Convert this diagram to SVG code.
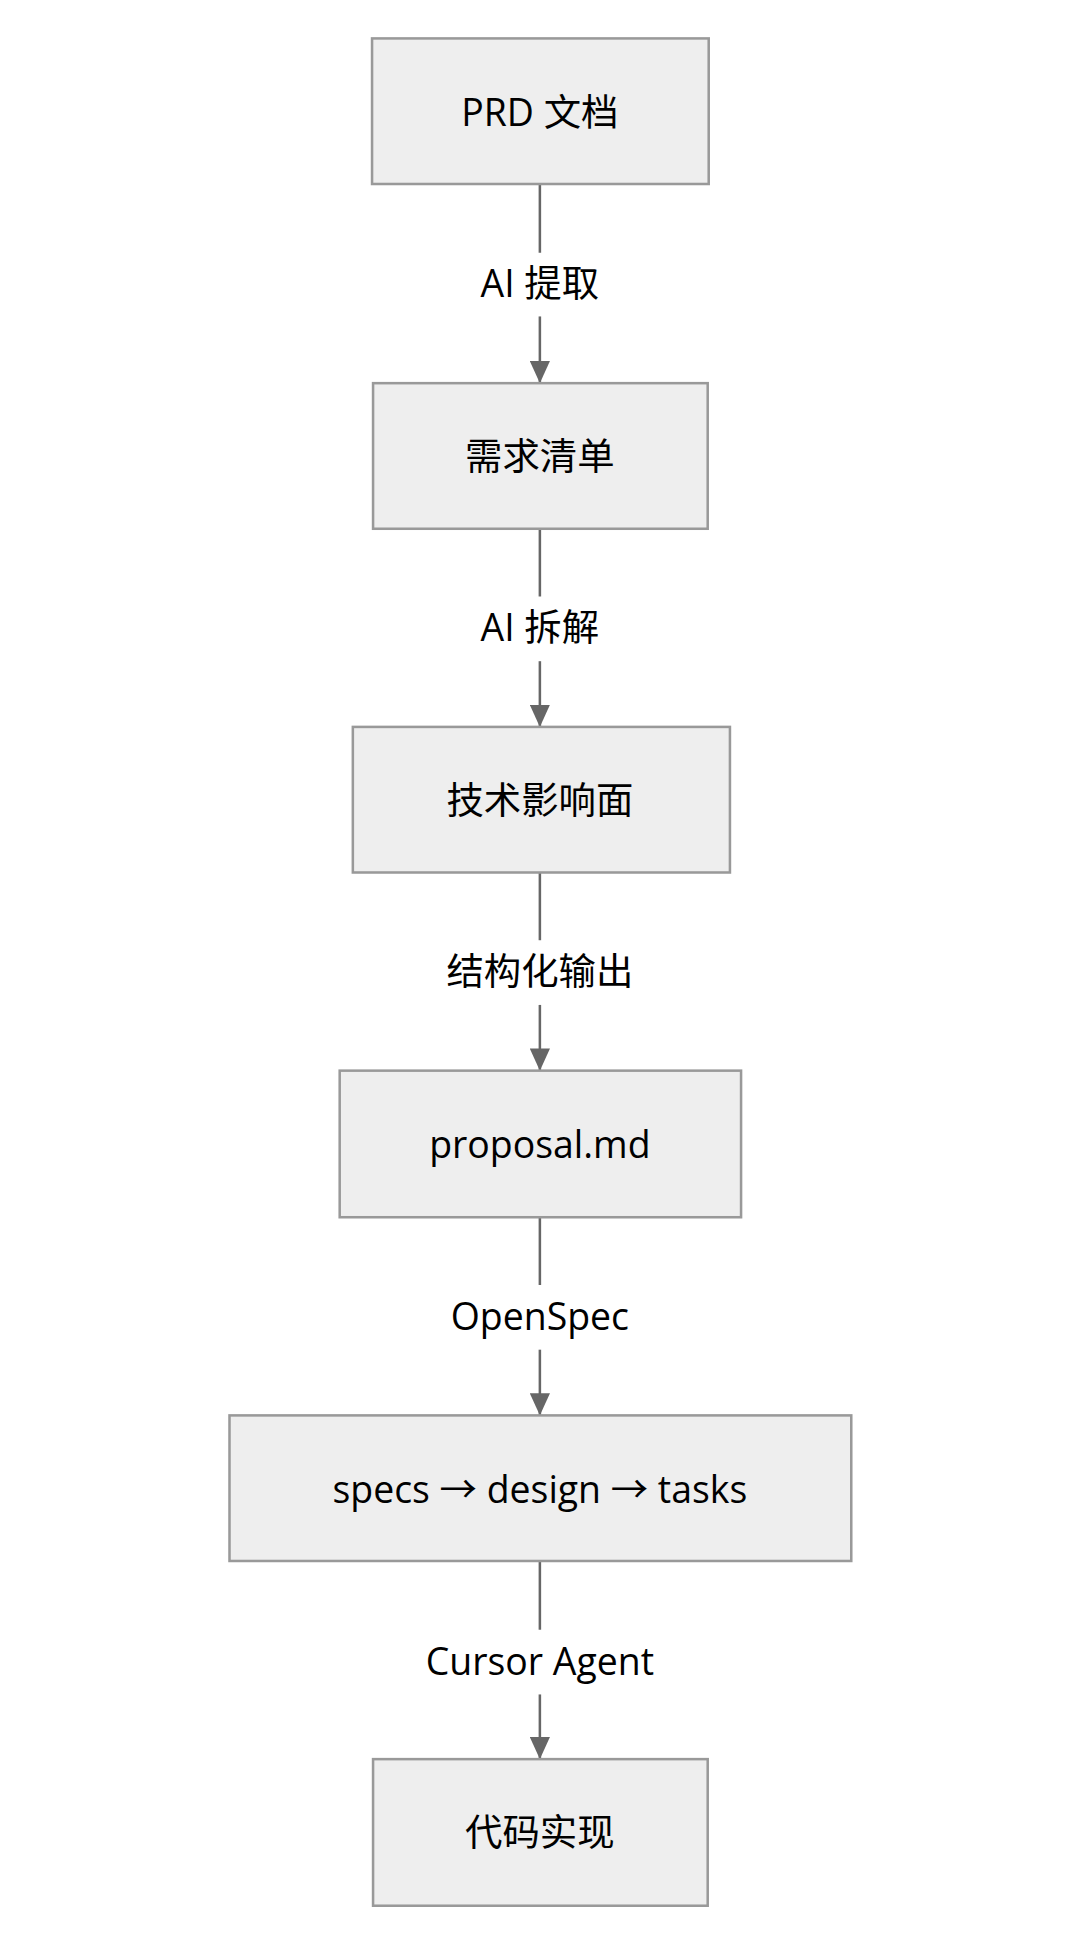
<svg xmlns="http://www.w3.org/2000/svg" width="1080" height="1943" viewBox="0 0 1080 1943">
<style>
.n rect{fill:#eeeeee;stroke:#999999;stroke-width:2.5}
text{font-family:"Open Sans","Noto Sans CJK SC",sans-serif;font-size:37px;fill:#000;text-anchor:middle;dominant-baseline:central}
.e line{stroke:#666666;stroke-width:2.5}
</style>
<defs><marker id="ah" markerWidth="22" markerHeight="20" refX="22" refY="10" orient="auto" markerUnits="userSpaceOnUse" viewBox="0 0 22 20"><path d="M0,0 L22,10 L0,20 Z" fill="#666666"/></marker></defs>
<rect width="1080" height="1943" fill="#fff"/>
<g transform="scale(1.011)">
<g id="edges" class="e">
<line x1="534" y1="182" x2="534" y2="250"/><line x1="534" y1="313" x2="534" y2="379" marker-end="url(#ah)"/>
<line x1="534" y1="523" x2="534" y2="590"/><line x1="534" y1="654" x2="534" y2="719" marker-end="url(#ah)"/>
<line x1="534" y1="863" x2="534" y2="930"/><line x1="534" y1="994" x2="534" y2="1059" marker-end="url(#ah)"/>
<line x1="534" y1="1204" x2="534" y2="1271"/><line x1="534" y1="1335" x2="534" y2="1400" marker-end="url(#ah)"/>
<line x1="534" y1="1544" x2="534" y2="1612"/><line x1="534" y1="1676" x2="534" y2="1740" marker-end="url(#ah)"/>
<text x="534" y="279">AI 提取</text>
<text x="534" y="620">AI 拆解</text>
<text x="534" y="960">结构化输出</text>
<text x="534" y="1301">OpenSpec</text>
<text x="534" y="1642">Cursor Agent</text>
</g>
<g id="n1" class="n"><rect x="368" y="38" width="333" height="144"/><text x="534" y="110">PRD 文档</text></g>
<g id="n2" class="n"><rect x="369" y="379" width="331" height="144"/><text x="534" y="451">需求清单</text></g>
<g id="n3" class="n"><rect x="349" y="719" width="373" height="144"/><text x="534" y="791">技术影响面</text></g>
<g id="n4" class="n"><rect x="336" y="1059" width="397" height="145"/><text x="534" y="1131">proposal.md</text></g>
<g id="n5" class="n"><rect x="227" y="1400" width="615" height="144"/><text x="534" y="1472">specs → design → tasks</text></g>
<g id="n6" class="n"><rect x="369" y="1740" width="331" height="145"/><text x="534" y="1812">代码实现</text></g>
</g>
</svg>
